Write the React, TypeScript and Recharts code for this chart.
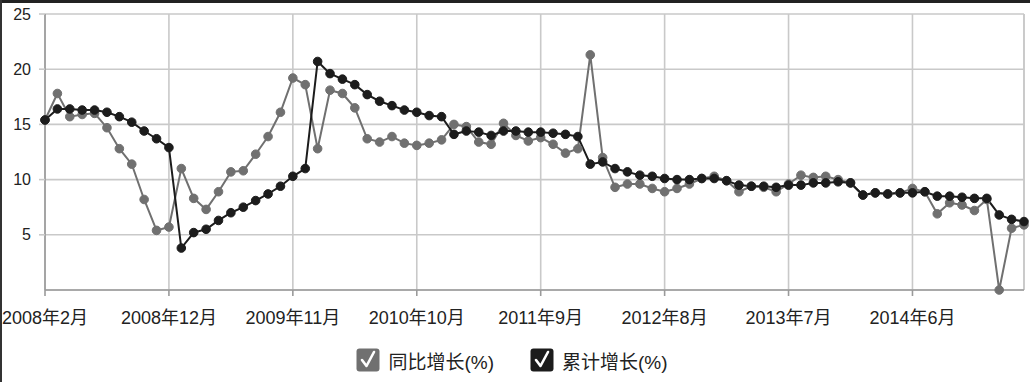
import React from 'react';
import { LineChart, Line, XAxis, YAxis, CartesianGrid, Legend, ReferenceLine } from 'recharts';

const categories: string[] = [
  '2008年2月','2008年3月','2008年4月','2008年5月','2008年6月','2008年7月','2008年8月','2008年9月','2008年10月','2008年11月','2008年12月',
  '2009年2月','2009年3月','2009年4月','2009年5月','2009年6月','2009年7月','2009年8月','2009年9月','2009年10月','2009年11月','2009年12月',
  '2010年2月','2010年3月','2010年4月','2010年5月','2010年6月','2010年7月','2010年8月','2010年9月','2010年10月','2010年11月','2010年12月',
  '2011年2月','2011年3月','2011年4月','2011年5月','2011年6月','2011年7月','2011年8月','2011年9月','2011年10月','2011年11月','2011年12月',
  '2012年2月','2012年3月','2012年4月','2012年5月','2012年6月','2012年7月','2012年8月','2012年9月','2012年10月','2012年11月','2012年12月',
  '2013年2月','2013年3月','2013年4月','2013年5月','2013年6月','2013年7月','2013年8月','2013年9月','2013年10月','2013年11月','2013年12月',
  '2014年2月','2014年3月','2014年4月','2014年5月','2014年6月','2014年7月','2014年8月','2014年9月','2014年10月','2014年11月','2014年12月',
  '2015年2月','2015年3月','2015年4月',
];

const yoyGrowth: number[] = [
  15.4, 17.8, 15.7, 15.9, 16.0, 14.7, 12.8, 11.4, 8.2, 5.4, 5.7,
  11.0, 8.3, 7.3, 8.9, 10.7, 10.8, 12.3, 13.9, 16.1, 19.2, 18.6,
  12.8, 18.1, 17.8, 16.5, 13.7, 13.4, 13.9, 13.3, 13.1, 13.3, 13.6,
  15.0, 14.8, 13.4, 13.2, 15.1, 14.0, 13.5, 13.8, 13.2, 12.4, 12.8,
  21.3, 12.0, 9.3, 9.6, 9.6, 9.2, 8.9, 9.2, 9.6, 10.1, 10.3,
  9.9, 8.9, 9.4, 9.3, 8.9, 9.6, 10.4, 10.2, 10.3, 10.0, 9.7,
  8.6, 8.8, 8.7, 8.8, 9.2, 8.9, 6.9, 7.9, 7.7, 7.2, 8.2,
  0, 5.6, 5.9,
];

const cumulativeGrowth: number[] = [
  15.4, 16.4, 16.4, 16.3, 16.3, 16.1, 15.7, 15.2, 14.4, 13.7, 12.9,
  3.8, 5.2, 5.5, 6.3, 7.0, 7.5, 8.1, 8.7, 9.4, 10.3, 11.0,
  20.7, 19.6, 19.1, 18.6, 17.7, 17.1, 16.7, 16.3, 16.1, 15.8, 15.7,
  14.1, 14.4, 14.3, 14.0, 14.4, 14.4, 14.3, 14.3, 14.2, 14.1, 13.9,
  11.4, 11.6, 11.0, 10.7, 10.4, 10.3, 10.1, 10.0, 10.0, 10.1, 10.1,
  9.9, 9.5, 9.4, 9.4, 9.3, 9.5, 9.5, 9.7, 9.7, 9.8, 9.7,
  8.6, 8.8, 8.7, 8.8, 8.8, 8.9, 8.5, 8.5, 8.4, 8.3, 8.3,
  6.8, 6.4, 6.2,
];

const xTicks: string[] = ['2008年2月','2008年12月','2009年11月','2010年10月','2011年9月','2012年8月','2013年7月','2014年6月'];
const yTicks: number[] = [5, 10, 15, 20, 25];
const seriesNames = { yoy: '同比增长(%)', cum: '累计增长(%)' };

const data = categories.map((c, i) => ({ month: c, yoy: yoyGrowth[i], cum: cumulativeGrowth[i] }));

const GRAY = '#707070';
const DARK = '#1c1c1c';
const GRID = '#c9c9c9';
const FONT = "'Liberation Sans', Arial, 'Noto Sans CJK SC', sans-serif";

const CheckIcon = ({ color }: { color: string }) => (
  <svg width={24} height={24} viewBox="0 0 24 24" style={{ display: 'block' }}>
    <rect x={0.5} y={0.5} width={23} height={23} rx={3} fill={color} />
    <polyline points="6,12 10.5,18 18,4" fill="none" stroke="#fff" strokeWidth={2.6} strokeLinecap="round" strokeLinejoin="round" />
  </svg>
);

const LegendContent = () => (
  <div style={{ display: 'flex', justifyContent: 'center', alignItems: 'center', height: 30, fontFamily: FONT, fontSize: 19, color: '#222' }}>
    <div style={{ display: 'flex', alignItems: 'center', marginRight: 36 }}>
      <CheckIcon color={GRAY} />
      <span style={{ marginLeft: 8 }}>{seriesNames.yoy}</span>
    </div>
    <div style={{ display: 'flex', alignItems: 'center' }}>
      <CheckIcon color={DARK} />
      <span style={{ marginLeft: 8 }}>{seriesNames.cum}</span>
    </div>
  </div>
);

export default function App() {
  return (
    <div style={{ position: 'absolute', left: 0, top: 0, width: 1030, height: 382, background: '#fff' }}>
      <LineChart width={1030} height={382} data={data} margin={{ top: 14, right: 6, left: 0, bottom: 7 }}>
        <CartesianGrid stroke={GRID} strokeWidth={1.6} />
        <XAxis
          dataKey="month"
          type="category"
          scale="point"
          padding={{ left: 0, right: 0 }}
          ticks={xTicks}
          interval={0}
          height={55}
          tickSize={6}
          tickMargin={15}
          stroke="#9a9a9a"
          strokeWidth={1.6}
          tick={{ fill: '#222', fontSize: 18, fontFamily: FONT }}
        />
        <YAxis
          type="number"
          domain={[0, 25]}
          ticks={yTicks}
          width={45}
          tickSize={6}
          tickMargin={8}
          stroke="#9a9a9a"
          strokeWidth={1.6}
          tickLine={{ stroke: GRID }}
          tick={{ fill: '#222', fontSize: 16, fontFamily: FONT }}
        />
        <ReferenceLine x={categories[categories.length - 1]} stroke={GRID} strokeWidth={1.6} />
        <Legend verticalAlign="bottom" height={30} content={<LegendContent />} />
        <Line
          type="linear"
          dataKey="yoy"
          name={seriesNames.yoy}
          stroke={GRAY}
          strokeWidth={2}
          dot={{ r: 4.3, fill: GRAY, stroke: GRAY, strokeWidth: 1 }}
          isAnimationActive={false}
        />
        <Line
          type="linear"
          dataKey="cum"
          name={seriesNames.cum}
          stroke={DARK}
          strokeWidth={2}
          dot={{ r: 4.3, fill: DARK, stroke: DARK, strokeWidth: 1 }}
          isAnimationActive={false}
        />
      </LineChart>
      <div style={{ position: 'absolute', left: 0, top: 0, width: 1030, height: 3, background: '#222' }} />
      <div style={{ position: 'absolute', left: 0, top: 0, width: 2, height: 382, background: '#333' }} />
    </div>
  );
}
